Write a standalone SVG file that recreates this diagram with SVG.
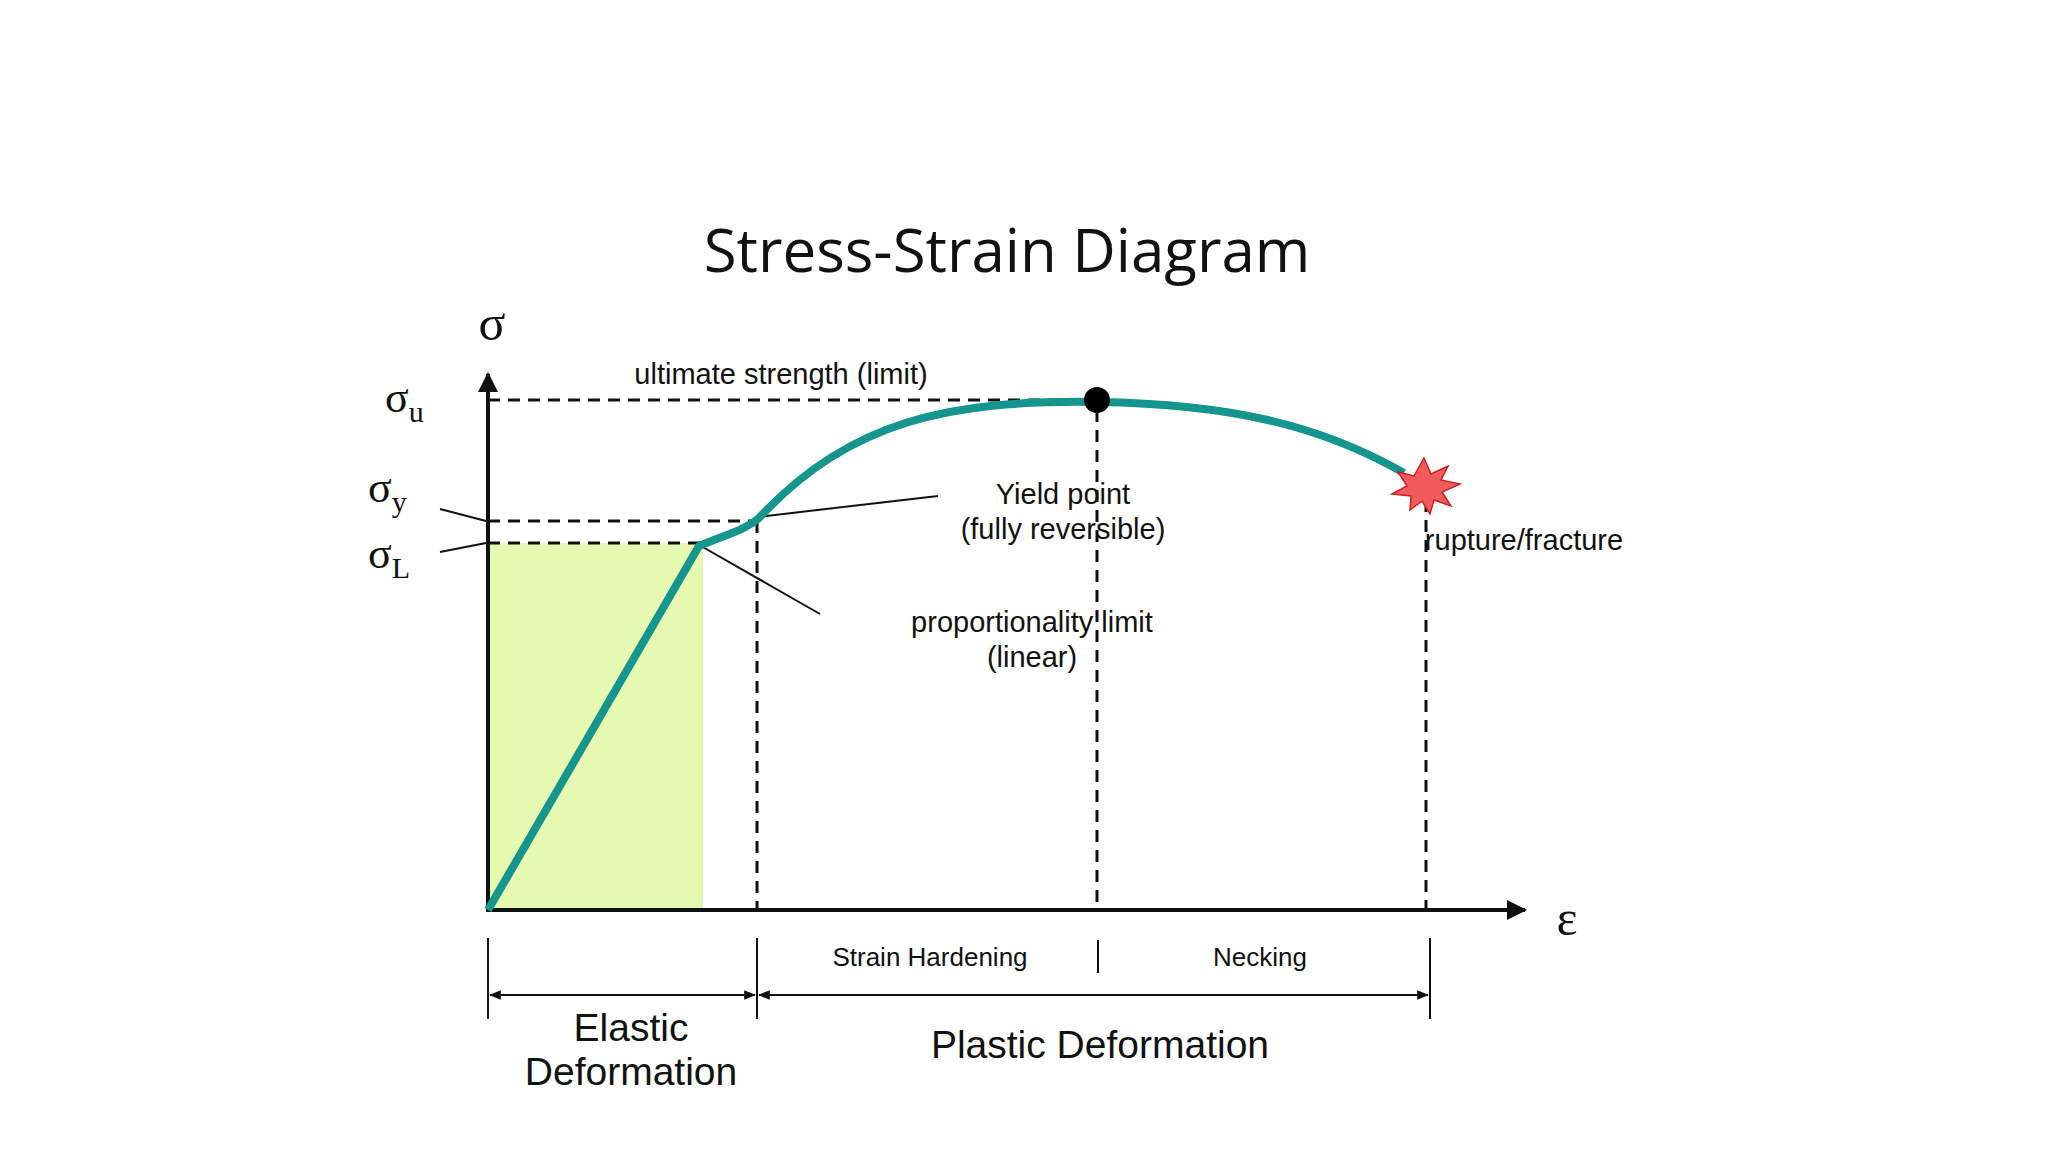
<svg xmlns="http://www.w3.org/2000/svg" width="2048" height="1152" viewBox="0 0 2048 1152">
<style>
.t{font-family:"Liberation Sans",Arial,sans-serif;fill:#111}
.s{font-family:"Liberation Serif","Times New Roman",serif;fill:#111}
.d{stroke:#111;stroke-width:3;stroke-dasharray:12 8;fill:none}
.l{stroke:#111;stroke-width:2;fill:none}
.k{stroke:#111;stroke-width:4;fill:none}
</style>
<defs>
<marker id="ah" viewBox="0 0 10 10" refX="9" refY="5" markerWidth="5" markerHeight="5" orient="auto-start-reverse"><path d="M0,0 L10,5 L0,10 z" fill="#111"/></marker>
<marker id="as" viewBox="0 0 10 10" refX="9" refY="5" markerWidth="6" markerHeight="6" orient="auto-start-reverse"><path d="M0,1 L10,5 L0,9 z" fill="#111"/></marker>
</defs>
<rect width="2048" height="1152" fill="#fff"/>
<text x="1007" y="272" text-anchor="middle" font-family="Open Sans,Noto Sans,sans-serif" font-size="60" fill="#111">Stress-Strain Diagram</text>
<g id="region"><rect x="488" y="543" width="215" height="367" fill="#e6f9b0"/></g>
<g id="connectors">
<path class="d" d="M488 400 H1097 M488 521 H757 M488 543 H703 M757 521 V910 M1097 410 V910 M1426 500 V910"/>
<path class="l" d="M440 509 L486 521 M440 552 L486 543 M938 496 L757 517 M701 546 L820 614"/>
<path class="k" d="M488 912 V374" marker-end="url(#ah)"/>
<path class="k" d="M486 910 H1525" marker-end="url(#ah)"/>
<path class="l" stroke-width="3" d="M488 938 V1019 M757 938 V1019 M1430 938 V1019 M1098 940 V973"/>
<path class="l" stroke-width="3" d="M490 995 H755" marker-start="url(#as)" marker-end="url(#as)"/>
<path class="l" stroke-width="3" d="M759 995 H1428" marker-start="url(#as)" marker-end="url(#as)"/>
<path d="M488 910 L699 546 C725 535 745 530 759 518 C850 420 950 400 1097 402 C1230 404 1320 425 1404 473" fill="none" stroke="#14958e" stroke-width="8" stroke-linejoin="round"/>
</g>
<g id="ultimate"><circle cx="1097" cy="400" r="13" fill="#000"/></g>
<g id="rupture"><polygon points="1424,458 1431,474 1448,466 1441,480 1460,484 1442,492 1451,506 1434,500 1430,514 1422,501 1410,510 1411,496 1392,494 1407,486 1398,472 1414,476" fill="#f25b5b" stroke="#c22" stroke-width="1.5"/></g>
<g id="labels">
<text class="s" x="492" y="340" font-size="50" text-anchor="middle">σ</text>
<text class="s" x="1567" y="935" font-size="50" text-anchor="middle">ε</text>
<text class="s" x="385" y="412" font-size="44">σ<tspan font-size="30" dy="10">u</tspan></text>
<text class="s" x="368" y="502" font-size="44">σ<tspan font-size="30" dy="10">y</tspan></text>
<text class="s" x="368" y="568" font-size="44">σ<tspan font-size="30" dy="10">L</tspan></text>
<text class="t" x="781" y="384" font-size="29" text-anchor="middle">ultimate strength (limit)</text>
<text class="t" x="1063" y="504" font-size="29" text-anchor="middle">Yield point</text>
<text class="t" x="1063" y="539" font-size="29" text-anchor="middle">(fully reversible)</text>
<text class="t" x="1524" y="550" font-size="29" text-anchor="middle">rupture/fracture</text>
<text class="t" x="1032" y="632" font-size="29" text-anchor="middle">proportionality limit</text>
<text class="t" x="1032" y="667" font-size="29" text-anchor="middle">(linear)</text>
<text class="t" x="930" y="966" font-size="26" text-anchor="middle">Strain Hardening</text>
<text class="t" x="1260" y="966" font-size="26" text-anchor="middle">Necking</text>
<text class="t" x="631" y="1041" font-size="39" text-anchor="middle">Elastic</text>
<text class="t" x="631" y="1085" font-size="39" text-anchor="middle">Deformation</text>
<text class="t" x="1100" y="1058" font-size="39" text-anchor="middle">Plastic Deformation</text>
</g>
</svg>
